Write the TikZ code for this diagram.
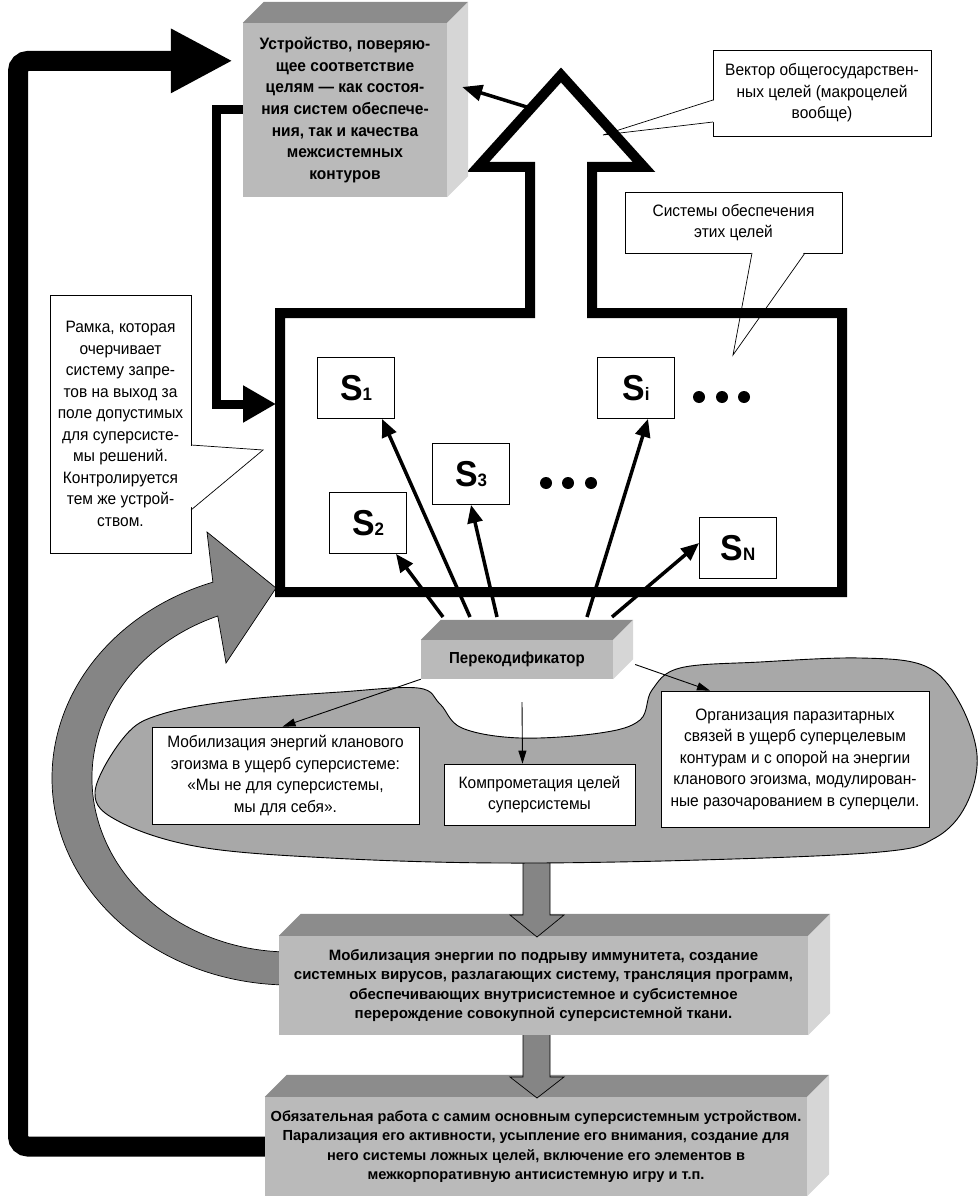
\documentclass[tikz,border=0pt]{standalone}
\usepackage{fontspec}
\setmainfont{Liberation Sans}
\newfontfamily\condsans[FakeStretch=0.94]{Liberation Sans}
\usetikzlibrary{arrows.meta,calc}

\definecolor{facegray}{gray}{0.73}
\definecolor{topgray}{gray}{0.55}
\definecolor{sidegray}{gray}{0.84}
\definecolor{cloudgray}{gray}{0.66}
\definecolor{arrowgray}{gray}{0.52}

\tikzset{
  note/.style={draw, fill=white, line width=0.7pt, align=center, inner sep=0pt,
    font=\condsans\fontsize{16.5}{21.5}\selectfont},
  sbox/.style={draw, fill=white, line width=0.8pt, minimum width=77pt, minimum height=61pt,
    inner sep=0pt, font=\condsans\bfseries},
  slab/.style={fill=facegray, align=center, inner sep=0pt,
    font=\bfseries\fontsize{15}{19.5}\selectfont},
  frame/.style={line width=10pt, miter limit=20},
  feed/.style={line width=3.5pt, -{Triangle[length=18pt,width=15pt]}},
  thinfeed/.style={line width=0.9pt, -{Triangle[length=13pt,width=8pt]}},
  fatarrow/.style={fill=arrowgray, draw=black, line width=0.7pt},
  ctrl/.style={line width=9pt, -{Triangle[length=33pt,width=35pt]}},
  mainline/.style={line width=20pt, rounded corners=10pt, -{Triangle[length=62pt,width=60pt]}},
}

% top and side faces of a grey block
\newcommand\slabfaces[2]{%
  \fill[topgray] (#1.north west) -- ++(#2,-#2) -- ([shift={(#2,-#2)}]#1.north east) -- (#1.north east) -- cycle;
  \fill[sidegray] (#1.north east) -- ++(#2,-#2) -- ([shift={(#2,-#2)}]#1.south east) -- (#1.south east) -- cycle;
}
\newcommand\Ssys[1]{{\fontsize{36}{36}\selectfont S}{\fontsize{18}{18}\selectfont #1}}

\begin{document}
\begin{tikzpicture}[x=1pt,y=-1pt]
  \useasboundingbox (0,0) rectangle (978,1198);

  % curved grey arrow
  \filldraw[fatarrow] (290,985) arc[start angle=90, end angle=251.1, x radius=238, y radius=207]
    -- (207,532) -- (276,588) -- (226,663)
    -- ($(290,778)+(248.6:198 and 174)$) arc[start angle=248.6, end angle=90, x radius=198, y radius=174]
    -- cycle;

  % lower blocks
  \node[slab, minimum width=529pt, minimum height=99pt] (mid) at (543.5,985.5)
    {Мобилизация энергии по подрыву иммунитета, создание\\
     системных вирусов, разлагающих систему, трансляция программ,\\
     обеспечивающих внутрисистемное и субсистемное\\
     перерождение совокупной суперсистемной ткани.};
  \slabfaces{mid}{22}
  \node[slab, minimum width=542pt, minimum height=99pt, font=\bfseries\fontsize{14.6}{19.5}\selectfont]
    (low) at (536,1146.5)
    {Обязательная работа с самим основным суперсистемным устройством.\\
     Парализация его активности, усыпление его внимания, создание для\\
     него системы ложных целей, включение его элементов в\\
     межкорпоративную антисистемную игру и т.п.};
  \slabfaces{low}{22}

  \filldraw[fatarrow] (523,850) -- (523,915) -- (510,915) -- (537,937) -- (564,915) -- (550,915) -- (550,850);
  \filldraw[fatarrow] (523,1035) -- (523,1077) -- (510,1077) -- (537,1098) -- (564,1077) -- (550,1077) -- (550,1035);

  % cloud
  \filldraw[fill=cloudgray, line width=0.9pt] plot[smooth cycle, tension=0.6] coordinates {
    (95,792) (125,736) (162,714) (240,700) (340,692) (418,688) (440,704) (462,728) (520,738)
    (600,733) (640,720) (652,690) (680,668) (760,662) (860,658) (925,666) (958,700)
    (977,755) (966,805) (935,838) (880,852) (700,860) (500,863) (330,858) (200,847) (120,822)};

  \node[note, minimum width=267pt, minimum height=97pt] (boxa) at (285.5,775.5)
    {Мобилизация энергий кланового\\эгоизма в ущерб суперсистеме:\\«Мы не для суперсистемы,\\мы для себя».};
  \node[note, minimum width=191pt, minimum height=61pt] (boxb) at (539.5,794.5)
    {Компрометация целей\\суперсистемы};
  \node[note, minimum width=268pt, minimum height=136pt] (boxc) at (795,759)
    {Организация паразитарных\\связей в ущерб суперцелевым\\контурам и с опорой на энергии\\кланового эгоизма, модулирован-\\ные разочарованием в суперцели.};

  % callouts
  \node[note, minimum width=218pt, minimum height=86pt] (vec) at (822,93)
    {Вектор общегосударствен-\\ных целей (макроцелей\\вообще)};
  \fill[white] (715,100) -- (603,135) -- (715,122) -- cycle;
  \draw[line width=0.7pt] (713,100) -- (603,135) -- (713,122);

  \node[note, minimum width=217pt, minimum height=61pt] (sys) at (733.5,222.5)
    {Системы обеспечения\\этих целей};
  \fill[white] (752,251) -- (733,355) -- (805,251) -- cycle;
  \draw[line width=0.7pt] (752,253) -- (733,355) -- (805,253);

  \node[note, minimum width=141pt, minimum height=258pt] (bound) at (120.5,424)
    {Рамка, которая\\очерчивает\\систему запре-\\тов на выход за\\поле допустимых\\для суперсисте-\\мы решений.\\Контролируется\\тем же устрой-\\ством.};
  \fill[white] (189,446) -- (263,450) -- (189,509) -- cycle;
  \draw[line width=0.7pt] (191,445) -- (263,450) -- (191,510);

  % frame with the hollow arrow
  \draw[frame] (280,313) -- (530,313) -- (530,167) -- (478,167) -- (561,75) -- (644,167)
    -- (592,167) -- (592,313) -- (842,313) -- (842,592) -- (280,592) -- cycle;

  % subsystems
  \node[sbox] (s1) at (356,388) {\Ssys{1}};
  \node[sbox] (s2) at (368,523) {\Ssys{2}};
  \node[sbox] (s3) at (471,474) {\Ssys{3}};
  \node[sbox] (si) at (636,388) {\Ssys{i}};
  \node[sbox] (sn) at (738,548) {\Ssys{N}};
  \foreach \xx in {546,568,591} \fill (\xx,483) circle (6);
  \foreach \xx in {699,722,744} \fill (\xx,397) circle (6);

  % recoder
  \node[slab, minimum width=192pt, minimum height=39pt, font=\condsans\bfseries\fontsize{16}{19}\selectfont]
    (rec) at (517,659.5) {Перекодификатор};
  \slabfaces{rec}{20}

  \foreach \n/\xx in {a/443,b/470,c/497,d/587,e/612} \coordinate (rec\n) at (\xx,617);
  \draw[feed] (reca) -- ([xshift=28pt]s2.south);
  \draw[feed] (recb) -- ([xshift=26pt]s1.south);
  \draw[feed] (recc) -- (s3.south);
  \draw[feed] (recd) -- ([xshift=12pt]si.south);
  \draw[feed] (rece) -- ([yshift=5pt]sn.west);

  \draw[thinfeed] (rec.south west) -- ([xshift=-3pt]boxa.north);
  \draw[thinfeed] ([xshift=5pt,yshift=-23pt]rec.south) -- ([xshift=-17pt]boxb.north);
  \draw[thinfeed] ([xshift=22pt,yshift=-5pt]rec.east) -- ([xshift=-85pt]boxc.north);

  % checking device
  \node[slab, minimum width=204pt, minimum height=174pt, font=\condsans\bfseries\fontsize{16.5}{21.6}\selectfont]
    (dev) at (345,110)
    {Устройство, поверяю-\\щее соответствие\\целям — как состоя-\\ния систем обеспече-\\ния, так и качества\\межсистемных\\контуров};
  \slabfaces{dev}{21}

  \coordinate (vecedge) at (530,108);
  \draw[line width=3.5pt, -{Triangle[length=20pt,width=16pt]}] (vecedge) -- ([xshift=15pt,yshift=23pt]dev.east);

  \coordinate (framel) at (276,404);
  \draw[ctrl] (dev.west) -- ++(-26,0) |- (framel);

  \draw[mainline, shorten >=10pt] (low.west) -- (18,1146.5) -- (18,61) -- ([yshift=-38pt]dev.north west);
\end{tikzpicture}
\end{document}
